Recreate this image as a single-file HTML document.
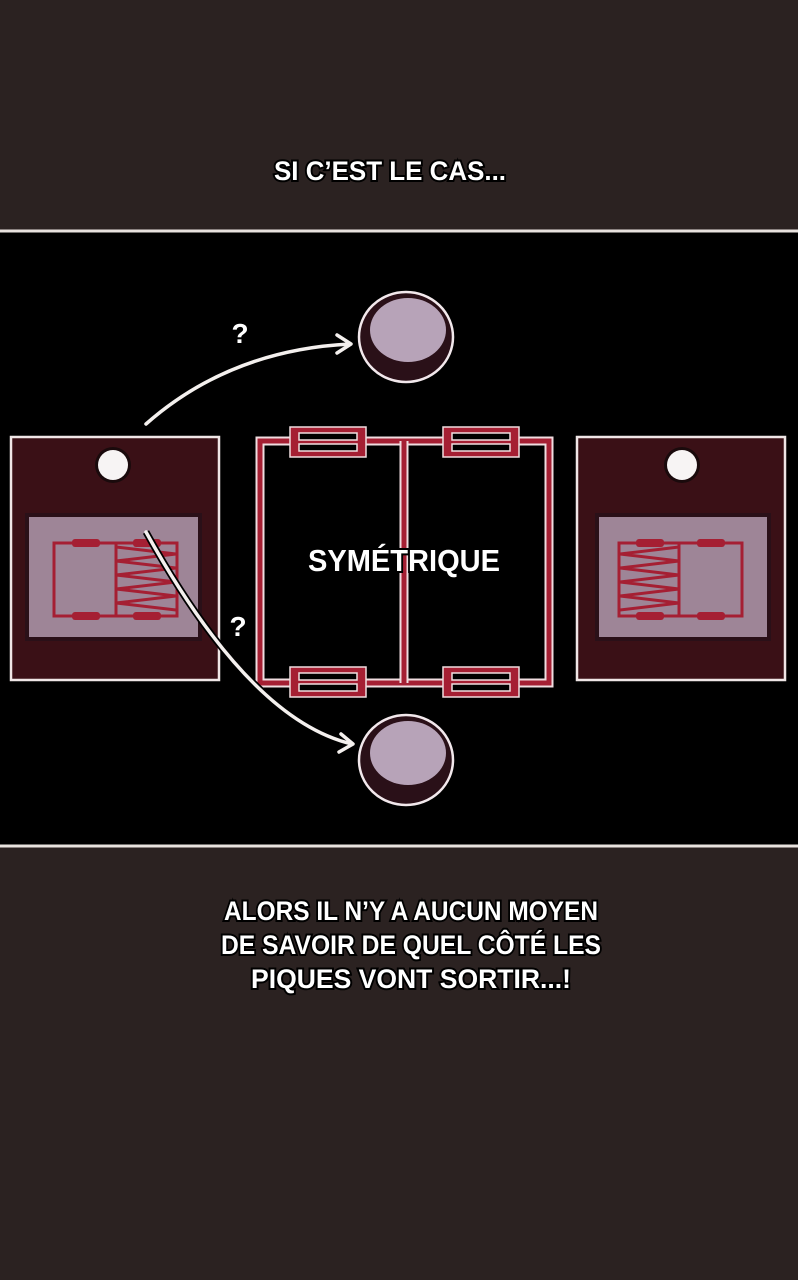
<!DOCTYPE html>
<html><head><meta charset="utf-8"><style>
html,body{margin:0;padding:0;background:#2b2221;}
svg{display:block;}
.t{font-family:"Liberation Sans",sans-serif;font-weight:bold;fill:#fff;stroke:#000;stroke-width:4;paint-order:stroke;}
</style></head><body>
<svg width="798" height="1280" viewBox="0 0 798 1280" xmlns="http://www.w3.org/2000/svg">
<defs>
<g id="res">
<rect x="0" y="0" width="76" height="30" fill="#a51f33" stroke="#f0dde0" stroke-width="1.5"/>
<rect x="9" y="6" width="58" height="7" fill="#000" stroke="#f0dde0" stroke-width="1.5"/>
<rect x="9" y="17" width="58" height="7" fill="#000" stroke="#f0dde0" stroke-width="1.5"/>
</g>
<g id="puck">
<ellipse cx="0" cy="0" rx="47" ry="45" fill="#2a1018" stroke="#f2e8ec" stroke-width="2.5"/>
<ellipse cx="2" cy="-7" rx="38" ry="32" fill="#b7a3b8"/>
</g>
</defs>
<rect width="798" height="1280" fill="#2b2221"/>
<text class="t" x="390" y="180" font-size="27" text-anchor="middle" textLength="232" lengthAdjust="spacingAndGlyphs">SI C’EST LE CAS...</text>
<rect x="0" y="230" width="798" height="616" fill="#000"/>
<line x1="0" y1="231" x2="798" y2="231" stroke="#e8e2de" stroke-width="3"/>
<line x1="0" y1="846" x2="798" y2="846" stroke="#e8e2de" stroke-width="3"/>

<!-- central circuit -->
<g fill="none">
<rect x="260" y="441" width="289" height="242" stroke="#f0dde0" stroke-width="9"/>
<rect x="260" y="441" width="289" height="242" stroke="#a51f33" stroke-width="5"/>
<line x1="404" y1="441" x2="404" y2="683" stroke="#f0dde0" stroke-width="9"/>
<line x1="404" y1="441" x2="404" y2="683" stroke="#a51f33" stroke-width="5"/>
</g>
<use href="#res" x="290" y="427"/>
<use href="#res" x="443" y="427"/>
<use href="#res" x="290" y="667"/>
<use href="#res" x="443" y="667"/>
<text class="t" x="404" y="571" font-size="31" text-anchor="middle" textLength="192" lengthAdjust="spacingAndGlyphs">SYMÉTRIQUE</text>

<!-- left box -->
<rect x="11" y="437" width="208" height="243" fill="#3a1016" stroke="#efe6e6" stroke-width="2.5"/>
<circle cx="113" cy="465" r="18" fill="#1a0a0c"/>
<circle cx="113" cy="465" r="15" fill="#f7f4f4"/>
<rect x="27" y="515" width="173" height="124" fill="#9e8597" stroke="#2a1018" stroke-width="4"/>
<g stroke="#a51f33" stroke-width="3" fill="none">
<rect x="54" y="543" width="123" height="73"/>
<line x1="116" y1="543" x2="116" y2="616"/>
<polyline points="116,547 176,554 116,561 176,568 116,575 176,582 116,589 176,596 116,603 176,610"/>
</g>
<g fill="#a51f33"><rect x="72" y="539" width="28" height="8" rx="3"/><rect x="133" y="539" width="28" height="8" rx="3"/><rect x="72" y="612" width="28" height="8" rx="3"/><rect x="133" y="612" width="28" height="8" rx="3"/></g>

<!-- right box -->
<rect x="577" y="437" width="208" height="243" fill="#3a1016" stroke="#efe6e6" stroke-width="2.5"/>
<circle cx="682" cy="465" r="18" fill="#1a0a0c"/>
<circle cx="682" cy="465" r="15" fill="#f7f4f4"/>
<rect x="597" y="515" width="172" height="124" fill="#9e8597" stroke="#2a1018" stroke-width="4"/>
<g stroke="#a51f33" stroke-width="3" fill="none">
<rect x="619" y="543" width="123" height="73"/>
<line x1="679" y1="543" x2="679" y2="616"/>
<polyline points="679,547 620,554 679,561 620,568 679,575 620,582 679,589 620,596 679,603 620,610"/>
</g>
<g fill="#a51f33"><rect x="636" y="539" width="28" height="8" rx="3"/><rect x="697" y="539" width="28" height="8" rx="3"/><rect x="636" y="612" width="28" height="8" rx="3"/><rect x="697" y="612" width="28" height="8" rx="3"/></g>

<!-- pucks -->
<use href="#puck" x="406" y="337"/>
<use href="#puck" x="406" y="760"/>

<!-- arrows -->
<g fill="none" stroke="#f4f0ee" stroke-width="3.5" stroke-linecap="round" stroke-linejoin="round">
<path d="M146,424 Q230,350 350,344"/>
<polyline points="337,335 351,344 337,353"/>
</g>
<path d="M146,532 Q250,720 352,744" fill="none" stroke="#000" stroke-width="7"/>
<g fill="none" stroke="#f4f0ee" stroke-width="3.5" stroke-linecap="round" stroke-linejoin="round">
<path d="M146,532 Q250,720 352,744"/>
<polyline points="341,734 353,744 339,752"/>
</g>
<text x="240" y="343" font-family="Liberation Sans,sans-serif" font-size="28" font-weight="bold" fill="#fff" text-anchor="middle">?</text>
<text x="238" y="636" font-family="Liberation Sans,sans-serif" font-size="28" font-weight="bold" fill="#fff" text-anchor="middle">?</text>

<text class="t" x="411" y="920" font-size="27" text-anchor="middle" textLength="374" lengthAdjust="spacingAndGlyphs">ALORS IL N’Y A AUCUN MOYEN</text>
<text class="t" x="411" y="954" font-size="27" text-anchor="middle" textLength="380" lengthAdjust="spacingAndGlyphs">DE SAVOIR DE QUEL CÔTÉ LES</text>
<text class="t" x="411" y="988" font-size="27" text-anchor="middle" textLength="320" lengthAdjust="spacingAndGlyphs">PIQUES VONT SORTIR...!</text>
</svg>
</body></html>
